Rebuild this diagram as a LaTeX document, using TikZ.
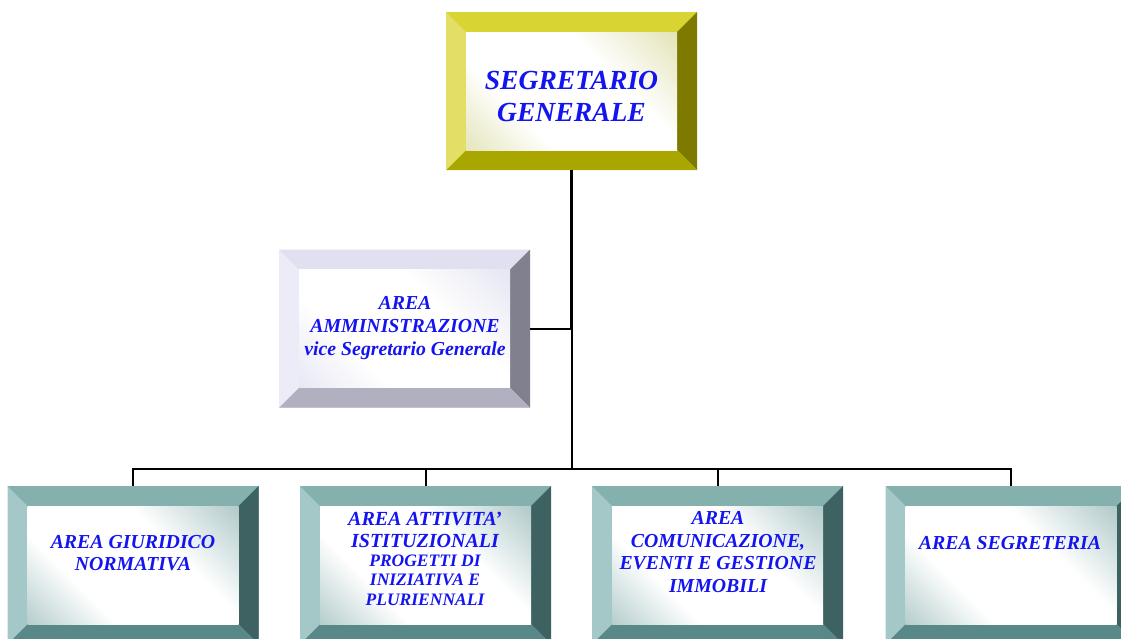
\documentclass[tikz,border=0pt]{standalone}
\usepackage{fontspec}
\setmainfont{Liberation Serif}
\usepackage{tikz}

% bevel palettes
\definecolor{yeltop}{HTML}{D8D434}
\definecolor{yelleft}{HTML}{E2DE66}
\definecolor{yelright}{HTML}{7E7A00}
\definecolor{yelbottom}{HTML}{AAA600}
\definecolor{yeltint}{HTML}{D2D28C}
\definecolor{lavtop}{HTML}{E0E0F0}
\definecolor{lavleft}{HTML}{ECECF8}
\definecolor{lavright}{HTML}{80808E}
\definecolor{lavbottom}{HTML}{B0B0C0}
\definecolor{lavtint}{HTML}{D6D6EA}
\definecolor{tealtop}{HTML}{84B0AE}
\definecolor{tealleft}{HTML}{A4C8C8}
\definecolor{tealright}{HTML}{3E6262}
\definecolor{tealbottom}{HTML}{588888}
\definecolor{tealtint}{HTML}{80A8A8}
\definecolor{areablue}{RGB}{20,20,240}

\pgfdeclareverticalshading{yelface}{100bp}{color(0bp)=(yeltint); color(34bp)=(white); color(62bp)=(white); color(100bp)=(yeltint)}
\pgfdeclareverticalshading{lavface}{100bp}{color(0bp)=(lavtint); color(34bp)=(white); color(62bp)=(white); color(100bp)=(lavtint)}
\pgfdeclareverticalshading{tealface}{100bp}{color(0bp)=(tealtint); color(34bp)=(white); color(62bp)=(white); color(100bp)=(tealtint)}

\begin{document}
\begin{tikzpicture}[x=1pt, y=-1pt,
		bevel/.style={rectangle, inner sep=0pt, minimum width=251pt, minimum height=158pt, fill=#1top,
			path picture={
				\path (path picture bounding box.north west) coordinate (a1)
				      (path picture bounding box.north east) coordinate (a2)
				      (path picture bounding box.south east) coordinate (a3)
				      (path picture bounding box.south west) coordinate (a4);
				\path ([shift={(20pt,-20pt)}]a1) coordinate (b1)
				      ([shift={(-20pt,-20pt)}]a2) coordinate (b2)
				      ([shift={(-20pt,20pt)}]a3) coordinate (b3)
				      ([shift={(20pt,20pt)}]a4) coordinate (b4);
				\fill[#1top] (a1) -- (a2) -- (b2) -- (b1) -- cycle;
				\fill[#1right] (a2) -- (a3) -- (b3) -- (b2) -- cycle;
				\fill[#1bottom] (a3) -- (a4) -- (b4) -- (b3) -- cycle;
				\fill[#1left] (a4) -- (a1) -- (b1) -- (b4) -- cycle;
				\shade[shading=#1face, shading angle=-45] (b1) rectangle (b3);
			}},
		boxtext/.style={align=center, text=areablue, font=\bfseries\itshape\fontsize{19.8}{22.6}\selectfont},
		trunk/.style={draw=black, line width=3pt},
		link/.style={draw=black, line width=2pt}]
		\useasboundingbox (0,0) rectangle (1121,638);
		\clip (0,0) rectangle (1121,638);
		% boxes
		\node[bevel=yel] (sg) at (571.5,91) {};
		\node[bevel=lav] (amm) at (404.5,328.5) {};
		\node[bevel=teal] (giur) at (133,565) {};
		\node[bevel=teal] (att) at (425.5,565) {};
		\node[bevel=teal] (com) at (717.5,565) {};
		\node[bevel=teal] (segr) at (1011,565) {};
		% texts
		\node[boxtext, font=\bfseries\itshape\fontsize{27.6}{32}\selectfont] (sgtxt) at (571.5,96) {SEGRETARIO\\GENERALE};
		\node[boxtext, font=\bfseries\itshape\fontsize{19.8}{23}\selectfont] (ammtxt) at (405,328) {AREA\\AMMINISTRAZIONE\\vice Segretario Generale};
		\node[boxtext] (giurtxt) at (133,553) {AREA GIURIDICO\\NORMATIVA};
		\node[boxtext, font=\bfseries\itshape\fontsize{20}{22.6}\selectfont] (atttxt) at (425,530) {AREA ATTIVITA’\\ISTITUZIONALI};
		\node[boxtext, font=\bfseries\itshape\fontsize{17.5}{19.5}\selectfont] (atttxtb) at (425,580) {PROGETTI DI\\INIZIATIVA E\\PLURIENNALI};
		\node[boxtext] (comtxt) at (718,552) {AREA\\COMUNICAZIONE,\\EVENTI E GESTIONE\\IMMOBILI};
		\node[boxtext] (segrtxt) at (1010,543) {AREA SEGRETERIA};
		% connectors
		\coordinate (bus) at (571.5,469);
		\draw[trunk] (sg.south) -- (sg.south |- amm.east);
		\draw[link] (amm.east) -- (amm.east -| sg.south);
		\draw[link] (sg.south |- amm.east) -- (bus);
		\draw[link] (giur.north) |- (bus) -| (segr.north);
		\draw[link] (att.north) -- (att.north |- bus);
		\draw[link] (com.north) -- (com.north |- bus);
\end{tikzpicture}
\end{document}
